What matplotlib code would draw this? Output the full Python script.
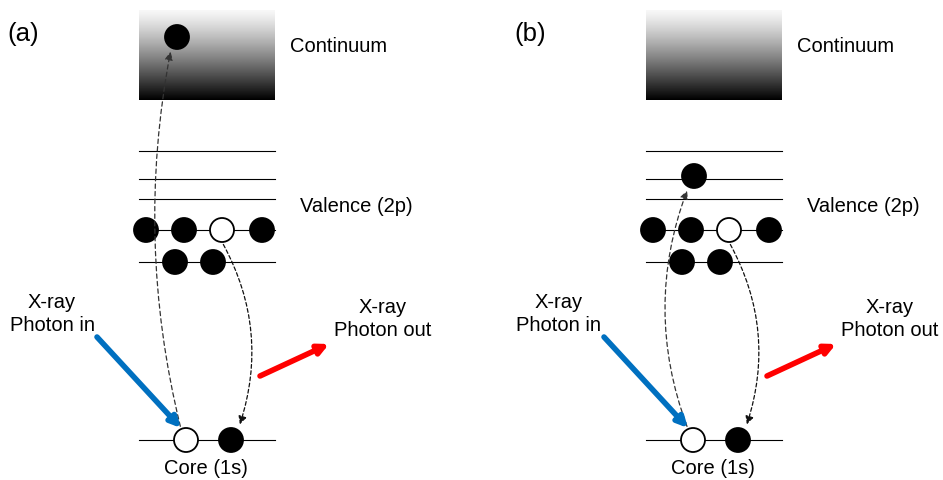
import numpy as np
import matplotlib.pyplot as plt
from matplotlib.patches import Circle, FancyArrowPatch

plt.rcParams['font.family'] = ['Liberation Sans', 'DejaVu Sans']

# layout of one panel (pixel units, y downwards); panel (b) shifted right
panel_labels = ["(a)", "(b)"]
panel_offsets = [0, 507]
box_x = [139, 275]
box_y = [10, 100]
level_ys = [151, 179, 199]
row1_y = 230
row1_xs = [146, 184, 222, 262]
row1_filled = [True, True, False, True]
row2_y = 262
row2_xs = [175, 213]
core_y = 440
core_xs = [186, 231]
core_filled = [False, True]
# excited electron: (x, y) per panel
excited = [(177, 37), (187, 176)]
excite_rad = [-0.11, -0.19]

r = 12
fig = plt.figure(figsize=(9.43, 4.80), dpi=100)
ax = fig.add_axes([0, 0, 1, 1])
ax.set_xlim(0, 943)
ax.set_ylim(480, 0)
ax.axis("off")

grad = np.linspace(0, 1, 256).reshape(-1, 1) ** 1.2

def electron(x, y, filled):
    ax.add_patch(Circle((x, y), r, facecolor="black" if filled else "white",
                        edgecolor="black", lw=1.3, zorder=3))

for p, off in enumerate(panel_offsets):
    ax.text(7 + off, 34, panel_labels[p], fontsize=18.5, va="center", ha="left")
    ax.imshow(0.97 - 0.97 * grad, cmap="gray", vmin=0, vmax=1, aspect="auto",
              extent=[box_x[0] + off, box_x[1] + off, box_y[1], box_y[0]], zorder=1)
    ax.text(290 + off, 47, "Continuum", fontsize=14.5, va="center")
    ax.text(300 + off, 206, "Valence (2p)", fontsize=14.5, va="center")
    ax.text(206 + off, 468, "Core (1s)", fontsize=14.5, va="center", ha="center")
    for ly in level_ys + [row1_y, row2_y, core_y]:
        ax.plot([box_x[0] + off, box_x[1] + off], [ly, ly], color="black", lw=0.8, zorder=2)
    for x, f in zip(row1_xs, row1_filled):
        electron(x + off, row1_y, f)
    for x in row2_xs:
        electron(x + off, row2_y, True)
    for x, f in zip(core_xs, core_filled):
        electron(x + off, core_y, f)
    ex, ey = excited[p]
    electron(ex + off, ey, True)

    # excitation: core hole -> excited electron
    ax.add_patch(FancyArrowPatch((core_xs[0] - 5 + off, core_y - 11), (ex - 6 + off, ey + 12),
                                 connectionstyle=f"arc3,rad={excite_rad[p]}",
                                 arrowstyle="-|>", mutation_scale=12, color="#333333",
                                 lw=0.9, linestyle=(0, (3.5, 2.5)), zorder=4))
    # decay: valence -> core
    ax.add_patch(FancyArrowPatch((row1_xs[2] + off, row1_y + 12), (core_xs[1] + 8 + off, core_y - 13),
                                 connectionstyle="arc3,rad=-0.22",
                                 arrowstyle="-|>", mutation_scale=12, color="#111111",
                                 lw=0.9, linestyle=(0, (3, 2)), zorder=4))
    # photon in / out
    ax.add_patch(FancyArrowPatch((97 + off, 337), (181 + off, 428), arrowstyle="-|>",
                                 mutation_scale=15, color="#0070C0", lw=4, zorder=4,
                                 shrinkA=0, shrinkB=0))
    ax.add_patch(FancyArrowPatch((260 + off, 376), (329 + off, 344), arrowstyle="-|>",
                                 mutation_scale=15, color="#FF0000", lw=4, zorder=4,
                                 shrinkA=0, shrinkB=0))
    ax.text(52 + off, 314, "X-ray\nPhoton in", fontsize=14.5, ha="center", va="center",
            linespacing=1.3)
    ax.text(383 + off, 319, "X-ray\nPhoton out", fontsize=14.5, ha="center", va="center",
            linespacing=1.3)

fig.savefig("out.png", dpi=100)
